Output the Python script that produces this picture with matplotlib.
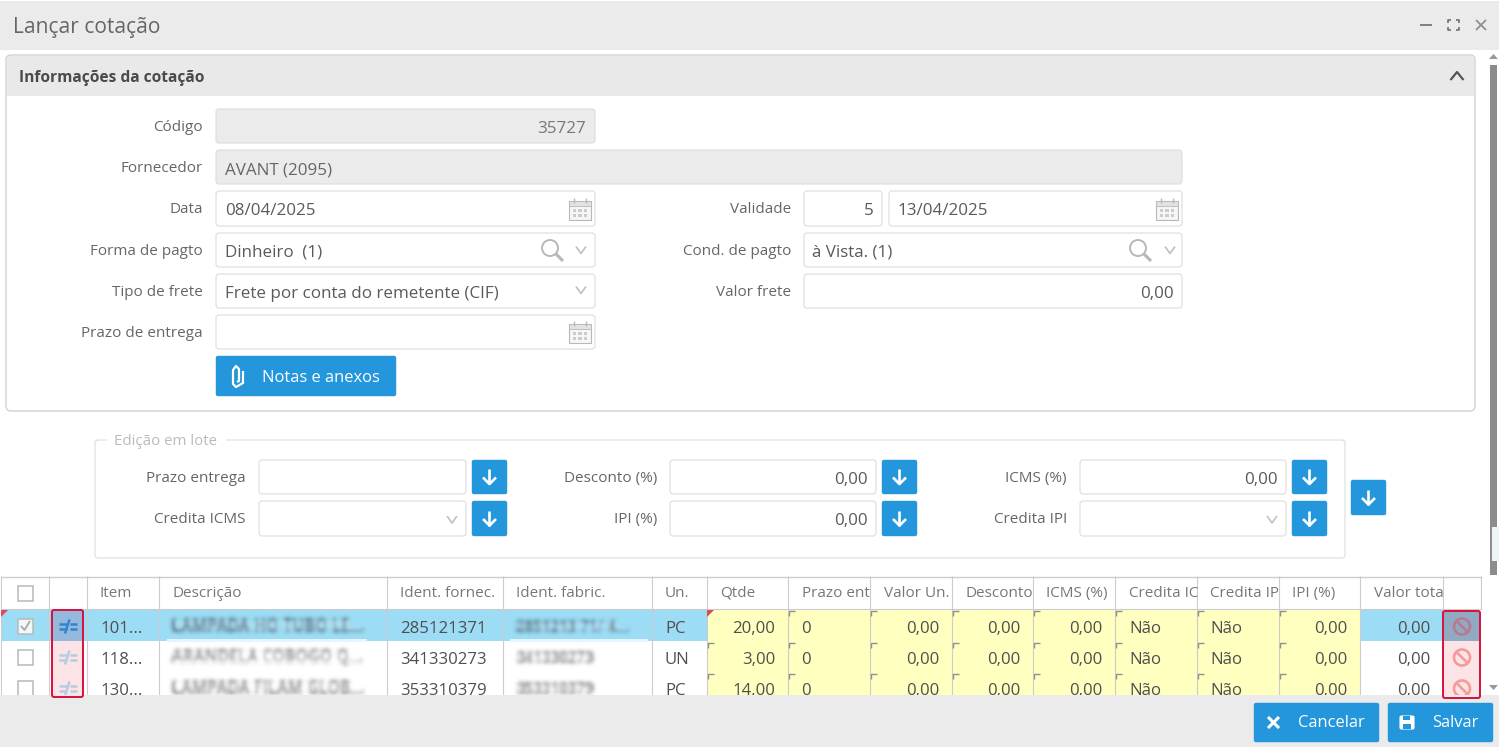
import matplotlib
matplotlib.use("Agg")
import numpy as np
import matplotlib.pyplot as plt
from matplotlib.patches import FancyBboxPatch, Rectangle, Polygon, Circle

plt.rcParams["font.family"] = ["Open Sans", "DejaVu Sans"]

# --- Content ---
window_title = "Lançar cotação"
panel_title = "Informações da cotação"
left_labels = ["Código", "Fornecedor", "Data", "Forma de pagto", "Tipo de frete", "Prazo de entrega"]
right_labels = ["Validade", "Cond. de pagto", "Valor frete"]
codigo = "35727"
fornecedor = "AVANT (2095)"
data_value = "08/04/2025"
forma_pagto = "Dinheiro  (1)"
tipo_frete = "Frete por conta do remetente (CIF)"
validade_dias = "5"
validade_data = "13/04/2025"
cond_pagto = "à Vista. (1)"
valor_frete = "0,00"
notes_button = "Notas e anexos"
batch_title = "Edição em lote"
batch_labels = ["Prazo entrega", "Credita ICMS", "Desconto (%)", "IPI (%)", "ICMS (%)", "Credita IPI"]
batch_values = ["", "", "0,00", "0,00", "0,00", ""]

headers = ["", "", "Item", "Descrição", "Ident. fornec.", "Ident. fabric.", "Un.", "Qtde", "Prazo ent",
           "Valor Un.", "Desconto", "ICMS (%)", "Credita IC", "Credita IP", "IPI (%)", "Valor tota", ""]
items = ["101...", "118...", "130..."]
descriptions = ["LAMPADA HO TUBO LE...", "ARANDELA COBOGO Q...", "LAMPADA FILAM GLOB..."]
ident_fornec = ["285121371", "341330273", "353310379"]
ident_fabric = ["2851213 71/ 4...", "341330273", "353310379"]
units = ["PC", "UN", "PC"]
qtde = ["20,00", "3,00", "14,00"]
prazo = ["0", "0", "0"]
valor_un = ["0,00", "0,00", "0,00"]
desconto = ["0,00", "0,00", "0,00"]
icms = ["0,00", "0,00", "0,00"]
credita_icms = ["Não", "Não", "Não"]
credita_ipi = ["Não", "Não", "Não"]
ipi = ["0,00", "0,00", "0,00"]
valor_total = ["0,00", "0,00", "0,00"]

# --- Layout in screen pixels ---
W, H = 1499, 747
COL = [1, 49, 87, 159, 387, 503, 652, 707, 788, 870, 952, 1033, 1115, 1197, 1279, 1360, 1443, 1481]
ROW = [609, 641, 672, 703]
ROW_MID = [626, 657, 688]

BLUE = "#2496dc"
GREY_BG = "#ebebeb"
BORDER = "#dcdcdc"
TEXT = "#5a5a5a"
LABEL = "#666666"
YELLOW = "#ffffc0"
SELECT = "#9cdcf5"
RED = "#d8103c"

fig = plt.figure(figsize=(W / 100, H / 100), dpi=100, facecolor="white")
ax = fig.add_axes([0, 0, 1, 1])
ax.set_xlim(0, W)
ax.set_ylim(H, 0)
ax.axis("off")


def px(size):
    return size * 0.72


def rect(x0, y0, x1, y1, fc, ec="none", lw=0, z=1):
    ax.add_patch(Rectangle((x0, y0), x1 - x0, y1 - y0, fc=fc, ec=ec, lw=lw, zorder=z))


def box(x0, y0, x1, y1, fc="white", ec=BORDER, r=3, lw=0.8, z=2):
    ax.add_patch(FancyBboxPatch((x0, y0), x1 - x0, y1 - y0, boxstyle=f"round,pad=0,rounding_size={r}",
                                fc=fc, ec=ec, lw=lw, zorder=z))


def txt(x, y, s, size=17, color=TEXT, ha="left", z=5, **kw):
    return ax.text(x, y + 2.7, s, fontsize=px(size), color=color, ha=ha, va="center", zorder=z, **kw)


def line(xs, ys, color="#999999", lw=1.0, z=6, **kw):
    ax.plot(xs, ys, color=color, lw=lw, zorder=z, solid_capstyle=kw.pop("cap", "butt"), **kw)


def chevron(cx, cy, w=5, h=3.5, color="#c0c0c0", lw=1.2, up=False):
    s = -1 if up else 1
    line([cx - w, cx, cx + w], [cy - s * h, cy + s * h, cy - s * h], color=color, lw=lw)


def calendar(cx, cy):
    c = "#b8b8b8"
    rect(cx - 11, cy - 8, cx + 11, cy + 11, "#f6f6f6", ec=c, lw=0.8, z=6)
    rect(cx - 11, cy - 8, cx + 11, cy - 3, "#e2e2e2", ec=c, lw=0.6, z=6)
    for dx in [-6, 6]:
        line([cx + dx, cx + dx], [cy - 11, cy - 6], color=c)
    for dx in [-5.5, 0, 5.5]:
        for dy in [1.5, 6.5]:
            rect(cx + dx - 1.8, cy + dy - 1.8, cx + dx + 1.8, cy + dy + 1.8, "#cccccc", z=7)


def magnifier(cx, cy):
    ax.add_patch(Circle((cx - 2, cy - 2), 8, fc="none", ec="#b8b8b8", lw=1.4, zorder=6))
    line([cx + 4, cx + 11], [cy + 4, cy + 11], color="#b8b8b8", lw=2.2)


def arrow_button(x0, y0, x1, y1):
    box(x0, y0, x1, y1, fc=BLUE, ec=BLUE, r=2, lw=0.3)
    cx, cy = (x0 + x1) / 2, (y0 + y1) / 2
    line([cx, cx], [cy - 8, cy + 7], color="white", lw=1.9, z=7)
    line([cx - 6.5, cx, cx + 6.5], [cy + 0.5, cy + 7, cy + 0.5], color="white", lw=1.9, z=7)


def not_equal_icon(cx, cy, color):
    line([cx - 9, cx - 1], [cy - 2.5, cy - 2.5], color=color, lw=1.8, z=8)
    line([cx - 9, cx - 1], [cy + 2.5, cy + 2.5], color=color, lw=1.8, z=8)
    line([cx + 2, cx + 9], [cy - 2.5, cy - 2.5], color=color, lw=1.8, z=8)
    line([cx + 2, cx + 9], [cy + 2.5, cy + 2.5], color=color, lw=1.8, z=8)
    line([cx - 3, cx + 1.5], [cy + 7, cy - 7], color=color, lw=1.8, z=8)


def forbid_icon(cx, cy, color):
    ax.add_patch(Circle((cx, cy), 8, fc="none", ec=color, lw=1.9, zorder=8))
    line([cx - 5.6, cx + 5.6], [cy - 5.6, cy + 5.6], color=color, lw=1.9, z=8)


def blur(sigma):
    radius = int(3 * sigma)
    kernel = np.exp(-0.5 * (np.arange(-radius, radius + 1) / sigma) ** 2)
    kernel = kernel / kernel.sum()

    def apply(image, dpi):
        out = np.pad(image, ((radius, radius), (radius, radius), (0, 0)))
        out = np.apply_along_axis(lambda m: np.convolve(m, kernel, mode="same"), 0, out)
        out = np.apply_along_axis(lambda m: np.convolve(m, kernel, mode="same"), 1, out)
        return out, -radius, -radius

    return apply


def blurred(x, y, s, size=14, color="#777777"):
    t = txt(x, y - 2, s, size=size, color=color, z=4, fontweight="bold")
    t.set_agg_filter(blur(2.3))
    t.set_rasterized(True)
    return t


# --- Window title bar ---
rect(0, 1, W, 50, GREY_BG)
txt(13, 25, window_title, size=21, color="#666666")
line([1420, 1432], [25, 25], color="#808080", lw=1.4)
for sx, sy in [(1448, 20), (1459, 20), (1448, 30), (1459, 30)]:
    dx = 3 if sx == 1448 else -3
    dy = 3 if sy == 20 else -3
    line([sx + dx, sx, sx], [sy, sy, sy + dy], color="#707070", lw=1.2)
line([1476, 1486], [20, 30], color="#909090", lw=1.3)
line([1476, 1486], [30, 20], color="#909090", lw=1.3)

# --- Scrollbar ---
rect(1490, 65, 1497, 575, "#8c8c8c", z=3)
ax.add_patch(Polygon([[1489, 59], [1493.5, 54], [1498, 59]], fc="#999999", zorder=3))
ax.add_patch(Polygon([[1489, 685], [1493.5, 690], [1498, 685]], fc="#999999", zorder=3))
rect(1492, 527, W, 561, "#eef5f7", z=4)

# --- Info panel ---
box(6, 55, 1475, 411, fc="white", ec="#cccccc", r=5, lw=0.9, z=1)
ax.add_patch(FancyBboxPatch((7, 56), 1467, 60, boxstyle="round,pad=0,rounding_size=4", fc="#e9e9e9", ec="none", zorder=1.1))
rect(7, 96, 1474, 120, "white", z=1.2)
txt(19, 75.5, panel_title, size=15.5, color="#4a4a4a", fontweight="bold")
chevron(1457, 76, w=6.5, h=4, color="#555555", lw=1.6, up=True)

left_rows = [125, 166, 207, 249, 290, 331]
left_tops = [109, 150, 191, 233, 274, 315]
left_bottoms = [143, 184, 226, 267, 308, 349]
for label, y in zip(left_labels, left_rows):
    txt(203, y, label, size=15.2, color=LABEL, ha="right")
for i, (t, b) in enumerate(zip(left_tops, left_bottoms)):
    x1 = 1182 if i == 1 else 595
    fill = GREY_BG if i < 2 else "white"
    box(216, t, x1, b, fc=fill)

txt(586, 126, codigo, color="#777777", ha="right")
txt(225, 168, fornecedor, color="#666666")
txt(225, 208, data_value)
calendar(580, 209)
txt(225, 250, forma_pagto)
magnifier(552, 250)
chevron(581, 250)
txt(225, 291, tipo_frete)
chevron(581, 290)
calendar(580, 332)

box(216, 356, 396, 396, fc=BLUE, ec=BLUE, r=2, lw=0.3)
clip_x = [243, 243, 236, 233, 233, 236, 239, 239, 237]
clip_y = [371, 383, 387, 384, 370, 366, 369, 381, 382]
line(clip_x, clip_y, color="white", lw=1.6, z=7)
txt(262, 375.5, notes_button, size=16.5, color="white")

for label, y in zip(right_labels, [207, 249, 290]):
    txt(791, y, label, size=15.2, color=LABEL, ha="right")
box(804, 191, 882, 226)
txt(874, 208, validade_dias, ha="right")
box(889, 191, 1182, 226)
txt(897, 208, validade_data)
calendar(1167, 209)
box(804, 233, 1182, 267)
txt(812, 250, cond_pagto)
magnifier(1140, 250)
chevron(1170, 250)
box(804, 274, 1182, 308)
txt(1174, 291, valor_frete, ha="right")

# --- Batch edit fieldset ---
box(95, 440, 1345, 558, fc="white", ec="#dddddd", r=3, z=1)
rect(107, 436, 226, 445, "white", z=1.5)
txt(114, 439, batch_title, size=15, color="#bbbbbb")

batch_label_x = [246, 246, 657, 657, 1067, 1067]
batch_box_x = [(259, 466), (259, 466), (670, 876), (670, 876), (1080, 1286), (1080, 1286)]
batch_btn_x = [(472, 507), (472, 507), (882, 917), (882, 917), (1292, 1327), (1292, 1327)]
batch_y = [(460, 494), (501, 536), (460, 494), (501, 536), (460, 494), (501, 536)]
for i, label in enumerate(batch_labels):
    y0, y1 = batch_y[i]
    mid = (y0 + y1) / 2
    txt(batch_label_x[i], mid - 1.5, label, size=15.2, color=LABEL, ha="right")
    box(batch_box_x[i][0], y0, batch_box_x[i][1], y1)
    if batch_values[i]:
        txt(batch_box_x[i][1] - 8, mid, batch_values[i], ha="right")
    elif label.startswith("Credita"):
        chevron(batch_box_x[i][1] - 14, mid + 1)
    arrow_button(batch_btn_x[i][0], y0, batch_btn_x[i][1], y1)
arrow_button(1351, 480, 1386, 515)

# --- Table backgrounds ---
rect(COL[0], ROW[0], COL[16], ROW[1], SELECT, z=1)
rect(COL[7], ROW[0], COL[15], 695, YELLOW, z=1.5)
rect(167, 639, 367, 642, "#e4f5fc", z=1.7)
rect(510, 639, 648, 642, "#e4f5fc", z=1.7)

# column lines
for i, x in enumerate(COL):
    bottom = 695 if i < 16 else 609
    line([x, x], [576, bottom], color="#cccccc", lw=0.8, z=2)
line([COL[0], COL[-1]], [576.5, 576.5], color="#cccccc", lw=1.0, z=2)
line([COL[0], COL[-1]], [609, 609], color="#cccccc", lw=0.8, z=2)

# header text
header_x = [0, 0, 100, 173, 400, 516, 665, 720, 802, 884, 966, 1046, 1129, 1210, 1292, 1374, 0]
for i, label in enumerate(headers):
    if not label:
        continue
    t = txt(header_x[i], 590.5, label, size=15.3, color="#777777")
    t.set_clip_path(Rectangle((COL[i], 577), COL[i + 1] - COL[i] - 1, 32, transform=ax.transData))

# checkboxes
for y in [593, ROW_MID[0], ROW_MID[1], ROW_MID[2]]:
    rect(18, y - 7.5, 33, y + 7.5, "#f2f7f9" if y == ROW_MID[0] else "white", ec="#b8b8b8", lw=1.1, z=3)
line([21, 24.5, 30], [ROW_MID[0], ROW_MID[0] + 4, ROW_MID[0] - 5], color="#a8a8a8", lw=1.3, z=4)


def put_cell(x, y, s, ha="left", color="#4f4f4f"):
    txt(x, y, s, size=16.7, color=color, ha=ha)


for r in range(3):
    y = ROW_MID[r]
    blur_color = "#50697a" if r == 0 else "#7e7e7e"
    put_cell(100, y, items[r])
    blurred(172, y, descriptions[r], size=16, color=blur_color)
    put_cell(400, y, ident_fornec[r])
    blurred(516, y, ident_fabric[r], size=15, color=blur_color)
    put_cell(665, y, units[r])
    put_cell(775, y, qtde[r], ha="right")
    put_cell(801, y, prazo[r])
    put_cell(939, y, valor_un[r], ha="right")
    put_cell(1020, y, desconto[r], ha="right")
    put_cell(1102, y, icms[r], ha="right")
    put_cell(1129, y, credita_icms[r])
    put_cell(1210, y, credita_ipi[r])
    put_cell(1347, y, ipi[r], ha="right")
    put_cell(1430, y, valor_total[r], ha="right")
    for i in range(7, 15):
        if i == 7 and r == 0:
            continue
        line([COL[i] + 7, COL[i] + 1, COL[i] + 1], [ROW[r] + 1.5, ROW[r] + 1.5, ROW[r] + 7],
             color="#909090", lw=1.0, z=3)

# red corner triangles on the selected row
for x in [COL[0], COL[7]]:
    ax.add_patch(Polygon([[x, 610], [x + 7, 610], [x, 617]], fc="#dd4b63", zorder=4))

# highlighted icon columns
rect(52, 610, 83, 641, "#94b9dc", z=2.5)
rect(52, 641, 83, 696, "#fbe3e6", z=2.5)
rect(1443, 611, 1480, 641, "#90aac4", z=2.5)
rect(1443, 641, 1480, 696, "#fbe3e6", z=2.5)
not_equal_icon(68, ROW_MID[0] + 0.5, "#2f86d0")
not_equal_icon(68, ROW_MID[1] + 0.5, "#b4cde4")
not_equal_icon(68, ROW_MID[2] + 0.5, "#b4cde4")
forbid_icon(1462, ROW_MID[0] + 0.5, "#b87a90")
forbid_icon(1462, ROW_MID[1] + 0.5, "#f79a9a")
forbid_icon(1462, ROW_MID[2] + 0.5, "#f79a9a")

# --- Bottom bar ---
rect(0, 695, W, H, GREY_BG, z=9)

box(52, 610, 83, 697, fc="none", ec=RED, r=2, lw=1.4, z=10)
box(1443, 611, 1480, 698, fc="none", ec=RED, r=2, lw=1.4, z=10)

box(1254, 703, 1379, 742, fc=BLUE, ec=BLUE, r=2, lw=0.3, z=10)
line([1268, 1279], [717, 728], color="white", lw=2.2, z=11)
line([1268, 1279], [728, 717], color="white", lw=2.2, z=11)
txt(1298, 720.5, "Cancelar", size=16.5, color="white", z=11)
box(1388, 703, 1493, 742, fc=BLUE, ec=BLUE, r=2, lw=0.3, z=10)
box(1400, 716, 1414, 729, fc="white", ec="white", r=1.5, z=11)
rect(1403, 716, 1410, 720, BLUE, z=12)
rect(1403, 724, 1411, 729, BLUE, z=12)
txt(1432, 720.5, "Salvar", size=16.5, color="white", z=11)

fig.savefig("out.png", dpi=100)
